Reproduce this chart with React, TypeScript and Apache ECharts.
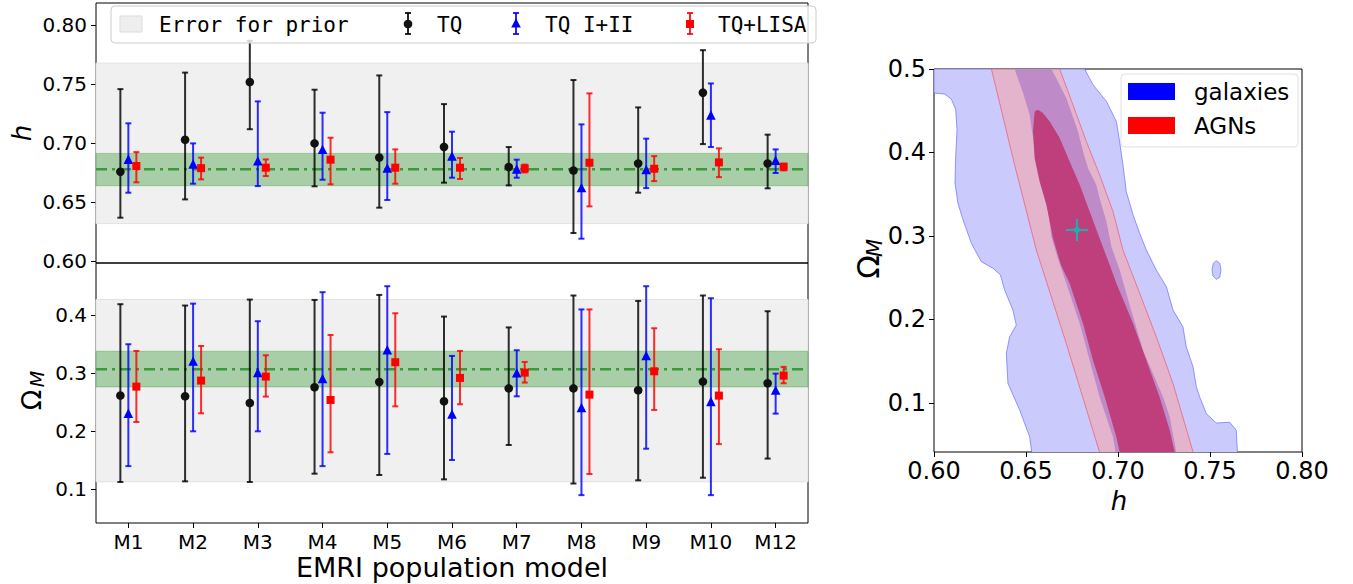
import React, { useEffect, useRef } from 'react';
import * as echarts from 'echarts';

const categories = ['M1', 'M2', 'M3', 'M4', 'M5', 'M6', 'M7', 'M8', 'M9', 'M10', 'M12'];

// [value, lower, upper]
const hTQ = [[0.676, 0.637, 0.746], [0.703, 0.6525, 0.76], [0.752, 0.712, 0.787], [0.7, 0.6636, 0.7455], [0.688, 0.6455, 0.7576], [0.697, 0.6667, 0.7333], [0.68, 0.6644, 0.6969], [0.677, 0.624, 0.7537], [0.683, 0.6582, 0.7305], [0.743, 0.6994, 0.779], [0.683, 0.6619, 0.7074]];
const hTQ12 = [[0.6856, 0.6582, 0.717], [0.6816, 0.6658, 0.7], [0.6842, 0.6638, 0.7356], [0.694, 0.6692, 0.726], [0.6782, 0.652, 0.7265], [0.6884, 0.6709, 0.7099], [0.6774, 0.6709, 0.6862], [0.6616, 0.6192, 0.7161], [0.6769, 0.6621, 0.704], [0.7231, 0.6969, 0.7508], [0.6847, 0.6749, 0.6949]];
const hLISA = [[0.6808, 0.667, 0.6926], [0.679, 0.6695, 0.6879], [0.6794, 0.6723, 0.6864], [0.6862, 0.6653, 0.7048], [0.6794, 0.6658, 0.6949], [0.6794, 0.6698, 0.6876], [0.6788, 0.6754, 0.682], [0.6836, 0.6466, 0.7424], [0.6785, 0.668, 0.6892], [0.6839, 0.6714, 0.6958], [0.6802, 0.6771, 0.6828]];

const omTQ = [[0.2616, 0.1126, 0.419], [0.2603, 0.1138, 0.4167], [0.2488, 0.1126, 0.427], [0.2759, 0.127, 0.4264], [0.285, 0.1247, 0.435], [0.2517, 0.1172, 0.3977], [0.274, 0.1764, 0.379], [0.274, 0.11, 0.434], [0.2707, 0.1155, 0.4247], [0.2856, 0.12, 0.434], [0.2828, 0.153, 0.4069]];
const omTQ12 = [[0.2293, 0.14, 0.35], [0.319, 0.2, 0.42], [0.2994, 0.2, 0.3897], [0.2891, 0.14, 0.4397], [0.3385, 0.161, 0.45], [0.228, 0.1505, 0.3299], [0.2988, 0.2603, 0.3397], [0.239, 0.09, 0.41], [0.3287, 0.17, 0.45], [0.2494, 0.09, 0.4293], [0.269, 0.2305, 0.2994]];
const omLISA = [[0.277, 0.216, 0.3385], [0.2874, 0.231, 0.347], [0.2943, 0.2598, 0.331], [0.254, 0.1638, 0.366], [0.319, 0.243, 0.4034], [0.292, 0.2466, 0.3385], [0.3011, 0.284, 0.3195], [0.2632, 0.1264, 0.41], [0.3034, 0.2368, 0.3776], [0.2615, 0.178, 0.3414], [0.296, 0.2828, 0.311]];

const priorH = [0.632, 0.768];
const priorOm = [0.113, 0.427];
const fidH = 0.678;
const fidHBand = [0.6641, 0.6915];
const fidOm = 0.307;
const fidOmBand = [0.2764, 0.338];

const hTicks = [0.6, 0.65, 0.7, 0.75, 0.8];
const omTicks = [0.1, 0.2, 0.3, 0.4];
const rightOmTicks = [0.1, 0.2, 0.3, 0.4, 0.5];

// contours in (h, Omega_M)
const galaxyOuter = [
  [0.6, 0.5], [0.6, 0.4712], [0.6058, 0.47], [0.6094, 0.464], [0.6118, 0.4512], [0.6125, 0.4272], [0.6118, 0.3952], [0.6114, 0.3632], [0.613, 0.3392], [0.6158, 0.3192], [0.6203, 0.2912], [0.6257, 0.2692], [0.6321, 0.2612], [0.6361, 0.2532], [0.6384, 0.2352], [0.6429, 0.2112], [0.6447, 0.1932], [0.6411, 0.1792], [0.6393, 0.1592], [0.6402, 0.1232], [0.6466, 0.0912], [0.652, 0.0592], [0.6538, 0.03],
  [0.7649, 0.03], [0.7649, 0.0412], [0.7643, 0.0672], [0.7607, 0.0768], [0.7534, 0.076], [0.748, 0.0872], [0.7444, 0.1072], [0.7426, 0.1192], [0.7408, 0.1432], [0.7371, 0.1672], [0.7353, 0.1912], [0.7299, 0.2112], [0.7263, 0.2392], [0.7208, 0.2592], [0.7154, 0.2832], [0.7118, 0.3032], [0.7082, 0.3252], [0.7045, 0.3532], [0.7027, 0.3852], [0.7009, 0.4132], [0.6991, 0.4372], [0.6937, 0.4612], [0.6864, 0.4812], [0.6819, 0.5]
];
const galaxyIsland = [[0.7534, 0.2704], [0.7553, 0.2672], [0.756, 0.2592], [0.7553, 0.2504], [0.7534, 0.248], [0.7516, 0.252], [0.7511, 0.26], [0.7518, 0.2672]];
const agnOuter = [[0.6312, 0.5], [0.6438, 0.3852], [0.6556, 0.2832], [0.6719, 0.1712], [0.6915, 0.03], [0.7415, 0.03], [0.7408, 0.0412], [0.7299, 0.1232], [0.7208, 0.1792], [0.7118, 0.2312], [0.7027, 0.2832], [0.6973, 0.3292], [0.69, 0.3732], [0.6828, 0.4132], [0.6755, 0.4572], [0.6683, 0.5]];
const galaxyInner = [[0.6438, 0.5], [0.6484, 0.4712], [0.652, 0.4452], [0.6534, 0.4232], [0.6556, 0.3952], [0.6583, 0.3632], [0.662, 0.3312], [0.6638, 0.2992], [0.667, 0.2752], [0.6719, 0.2432], [0.6792, 0.1952], [0.6846, 0.1512], [0.69, 0.1072], [0.6973, 0.0592], [0.6995, 0.03], [0.732, 0.03], [0.7317, 0.0412], [0.7281, 0.0832], [0.7245, 0.1072], [0.719, 0.1352], [0.7136, 0.1632], [0.7082, 0.2032], [0.7045, 0.2312], [0.7009, 0.2592], [0.6964, 0.2872], [0.6937, 0.3172], [0.69, 0.3452], [0.6882, 0.3612], [0.6837, 0.3812], [0.681, 0.4012], [0.6783, 0.4252], [0.6719, 0.4652], [0.6638, 0.5]];
const agnInner = [[0.6565, 0.4512], [0.6547, 0.4492], [0.6538, 0.4252], [0.6547, 0.3932], [0.6574, 0.3652], [0.6611, 0.3372], [0.6647, 0.2972], [0.669, 0.2652], [0.6737, 0.2432], [0.681, 0.1952], [0.6864, 0.1512], [0.6928, 0.1072], [0.6991, 0.0592], [0.702, 0.03], [0.731, 0.03], [0.7308, 0.0412], [0.7281, 0.0672], [0.7226, 0.1072], [0.7154, 0.1512], [0.7082, 0.1952], [0.6991, 0.2432], [0.6955, 0.2652], [0.69, 0.2972], [0.6846, 0.3292], [0.6792, 0.3612], [0.6737, 0.3892], [0.6683, 0.4172], [0.6629, 0.4372], [0.6592, 0.4472]];
const fiducialPoint = [0.6777, 0.3072];

const FONT = '"DejaVu Sans", sans-serif';

function bandSeries(xi: number, yi: number, band: number[], fill: string, stroke: string, z: number) {
  return {
    type: 'custom', xAxisIndex: xi, yAxisIndex: yi, z, silent: true,
    data: [[0, band[0], band[1]]],
    renderItem: (params: any, api: any) => {
      const cs = params.coordSys;
      const y1 = api.coord([0, api.value(2)])[1];
      const y2 = api.coord([0, api.value(1)])[1];
      return { type: 'rect', shape: { x: cs.x, y: y1, width: cs.width, height: y2 - y1 }, style: { fill, stroke, lineWidth: 1 } };
    },
  };
}

function lineSeries(xi: number, yi: number, v: number) {
  return {
    type: 'custom', xAxisIndex: xi, yAxisIndex: yi, z: 3, silent: true,
    data: [[0, v]],
    renderItem: (params: any, api: any) => {
      const cs = params.coordSys;
      const y = api.coord([0, api.value(1)])[1];
      return { type: 'line', shape: { x1: cs.x, y1: y, x2: cs.x + cs.width, y2: y }, style: { stroke: '#3c983c', lineWidth: 2.5, lineDash: [11, 5, 3, 5] } };
    },
  };
}

function markerShape(kind: string, x: number, y: number, fill: string) {
  if (kind === 'circle') return { type: 'circle', shape: { cx: x, cy: y, r: 4.3 }, style: { fill } };
  if (kind === 'triangle') return { type: 'polygon', shape: { points: [[x, y - 5.8], [x - 4.8, y + 3.6], [x + 4.8, y + 3.6]] }, style: { fill } };
  return { type: 'rect', shape: { x: x - 4, y: y - 4, width: 8, height: 8 }, style: { fill } };
}

function errSeries(name: string, data: number[][], xi: number, yi: number, offset: number, lineColor: string, fill: string, kind: string) {
  return {
    type: 'custom', name, xAxisIndex: xi, yAxisIndex: yi, z: 5,
    data: data.map((d, i) => [i, d[0], d[1], d[2]]),
    encode: { x: 0, y: [1, 2, 3] },
    renderItem: (params: any, api: any) => {
      const i = api.value(0);
      const c = api.coord([i, api.value(1)]);
      const lo = api.coord([i, api.value(2)])[1];
      const hi = api.coord([i, api.value(3)])[1];
      const x = c[0] + offset;
      const st = { stroke: lineColor, lineWidth: 2 };
      return {
        type: 'group',
        children: [
          { type: 'line', shape: { x1: x, y1: hi, x2: x, y2: lo }, style: st },
          { type: 'line', shape: { x1: x - 3, y1: hi, x2: x + 3, y2: hi }, style: st },
          { type: 'line', shape: { x1: x - 3, y1: lo, x2: x + 3, y2: lo }, style: st },
          markerShape(kind, x, c[1], fill),
        ],
      };
    },
  };
}

const contourList = [
  { pts: galaxyOuter, fill: '#cacafc', stroke: 'rgba(90,90,255,0.6)' },
  { pts: galaxyIsland, fill: '#cacafc', stroke: 'rgba(90,90,255,0.6)' },
  { pts: agnOuter, fill: '#e4b3cc', stroke: 'rgba(235,90,110,0.7)' },
  { pts: galaxyInner, fill: '#be8ac7', stroke: 'none' },
  { pts: agnInner, fill: '#bf3f7c', stroke: 'none' },
];

function legendErr(x: number, color: string, fill: string, kind: string) {
  const st = { stroke: color, lineWidth: 2 };
  return [
    { type: 'line', z: 101, shape: { x1: x, y1: 13, x2: x, y2: 34 }, style: st },
    { type: 'line', z: 101, shape: { x1: x - 3, y1: 13, x2: x + 3, y2: 13 }, style: st },
    { type: 'line', z: 101, shape: { x1: x - 3, y1: 34, x2: x + 3, y2: 34 }, style: st },
    { ...markerShape(kind, x, 24, fill), z: 101 },
  ];
}

export default function App() {
  const ref = useRef<HTMLDivElement>(null);
  useEffect(() => {
    const chart = echarts.init(ref.current!, null, { renderer: 'svg' });
    const gridBase = { show: true, borderColor: '#000', borderWidth: 1, backgroundColor: 'transparent' };
    const valLabel = (size: number, digits: number, custom: number[]) => ({
      customValues: custom, fontSize: size, color: '#000', fontFamily: FONT, margin: 9,
      formatter: (v: number) => Number(v).toFixed(digits),
    });
    const option: any = {
      animation: false,
      textStyle: { fontFamily: FONT },
      grid: [
        { ...gridBase, left: 96, top: 3, width: 712, height: 260 },
        { ...gridBase, left: 96, top: 263, width: 712, height: 260 },
        { ...gridBase, left: 934, top: 69, width: 368, height: 383 },
      ],
      xAxis: [
        { type: 'category', gridIndex: 0, data: categories, axisLine: { show: false }, axisTick: { show: false }, axisLabel: { show: false } },
        {
          type: 'category', gridIndex: 1, data: categories, axisLine: { show: false },
          axisTick: { show: true, alignWithLabel: true, length: 5, lineStyle: { color: '#000' } },
          axisLabel: { fontSize: 20, color: '#000', fontFamily: FONT, margin: 9 },
        },
        {
          type: 'value', gridIndex: 2, min: 0.6, max: 0.8, interval: 0.05, splitLine: { show: false },
          axisLine: { show: false }, axisTick: { show: true, length: 5, lineStyle: { color: '#000' } },
          axisLabel: { fontSize: 24, color: '#000', fontFamily: FONT, margin: 7, formatter: (v: number) => v.toFixed(2) },
        },
      ],
      yAxis: [
        {
          type: 'value', gridIndex: 0, min: 0.5986, max: 0.819, splitLine: { show: false }, axisLine: { show: false },
          axisTick: { show: true, length: 5, customValues: hTicks, lineStyle: { color: '#000' } },
          axisLabel: valLabel(20, 2, hTicks),
        },
        {
          type: 'value', gridIndex: 1, min: 0.042, max: 0.49, splitLine: { show: false }, axisLine: { show: false },
          axisTick: { show: true, length: 5, customValues: omTicks, lineStyle: { color: '#000' } },
          axisLabel: valLabel(20, 1, omTicks),
        },
        {
          type: 'value', gridIndex: 2, min: 0.0412, max: 0.5, splitLine: { show: false }, axisLine: { show: false },
          axisTick: { show: true, length: 5, customValues: rightOmTicks, lineStyle: { color: '#000' } },
          axisLabel: { ...valLabel(24, 1, rightOmTicks), margin: 8 },
        },
      ],
      series: [
        bandSeries(0, 0, priorH, '#f0f0f0', '#e2e2e2', 1),
        bandSeries(0, 0, fidHBand, 'rgba(0,128,0,0.3)', 'rgba(0,120,0,0.25)', 2),
        lineSeries(0, 0, fidH),
        bandSeries(1, 1, priorOm, '#f0f0f0', '#e2e2e2', 1),
        bandSeries(1, 1, fidOmBand, 'rgba(0,128,0,0.3)', 'rgba(0,120,0,0.25)', 2),
        lineSeries(1, 1, fidOm),
        errSeries('TQ', hTQ, 0, 0, -8, 'rgba(0,0,0,0.82)', '#111', 'circle'),
        errSeries('TQ I+II', hTQ12, 0, 0, 0, 'rgba(0,0,255,0.82)', '#0000ff', 'triangle'),
        errSeries('TQ+LISA', hLISA, 0, 0, 8, 'rgba(255,0,0,0.82)', '#ff0000', 'square'),
        errSeries('TQ', omTQ, 1, 1, -8, 'rgba(0,0,0,0.82)', '#111', 'circle'),
        errSeries('TQ I+II', omTQ12, 1, 1, 0, 'rgba(0,0,255,0.82)', '#0000ff', 'triangle'),
        errSeries('TQ+LISA', omLISA, 1, 1, 8, 'rgba(255,0,0,0.82)', '#ff0000', 'square'),
        {
          type: 'custom', xAxisIndex: 2, yAxisIndex: 2, z: 2, clip: true, silent: true,
          data: contourList.map((c, i) => [c.pts[0][0], c.pts[0][1], i]),
          renderItem: (params: any, api: any) => {
            const c = contourList[api.value(2)];
            const pts = c.pts.map((p) => api.coord(p));
            return { type: 'polygon', shape: { points: pts }, style: { fill: c.fill, stroke: c.stroke, lineWidth: 1 } };
          },
        },
        {
          type: 'custom', xAxisIndex: 2, yAxisIndex: 2, z: 4, silent: true,
          data: [fiducialPoint],
          renderItem: (params: any, api: any) => {
            const c = api.coord([api.value(0), api.value(1)]);
            const st = { stroke: '#1bb0b0', lineWidth: 2 };
            return {
              type: 'group', children: [
                { type: 'line', shape: { x1: c[0] - 11, y1: c[1], x2: c[0] + 11, y2: c[1] }, style: st },
                { type: 'line', shape: { x1: c[0], y1: c[1] - 11, x2: c[0], y2: c[1] + 11 }, style: st },
                { type: 'circle', shape: { cx: c[0], cy: c[1], r: 3 }, style: { fill: '#1bb0b0' } },
              ],
            };
          },
        },
      ],
      graphic: [
        // left legend
        { type: 'rect', z: 100, shape: { x: 111, y: 6, width: 705, height: 37, r: 4 }, style: { fill: 'rgba(255,255,255,0.8)', stroke: '#cccccc', lineWidth: 1 } },
        { type: 'rect', z: 101, shape: { x: 120, y: 16, width: 22, height: 16 }, style: { fill: '#eeeeee', stroke: '#dddddd' } },
        { type: 'text', z: 101, x: 159, y: 25, style: { text: 'Error for prior', font: '21px "DejaVu Sans Mono"', fill: '#000', verticalAlign: 'middle' } },
        ...legendErr(408, 'rgba(0,0,0,0.85)', '#111', 'circle'),
        { type: 'text', z: 101, x: 437, y: 25, style: { text: 'TQ', font: '21px "DejaVu Sans Mono"', fill: '#000', verticalAlign: 'middle' } },
        ...legendErr(516, 'rgba(0,0,255,0.85)', '#0000ff', 'triangle'),
        { type: 'text', z: 101, x: 545, y: 25, style: { text: 'TQ I+II', font: '21px "DejaVu Sans Mono"', fill: '#000', verticalAlign: 'middle' } },
        ...legendErr(690, 'rgba(255,0,0,0.85)', '#ff0000', 'square'),
        { type: 'text', z: 101, x: 718, y: 25, style: { text: 'TQ+LISA', font: '21px "DejaVu Sans Mono"', fill: '#000', verticalAlign: 'middle' } },
        // right legend
        { type: 'rect', z: 100, shape: { x: 1121, y: 74, width: 177, height: 73, r: 4 }, style: { fill: 'rgba(255,255,255,0.85)', stroke: '#e0e0e0', lineWidth: 1 } },
        { type: 'rect', z: 101, shape: { x: 1128, y: 83, width: 47, height: 17 }, style: { fill: '#0000ff' } },
        { type: 'rect', z: 101, shape: { x: 1128, y: 117, width: 47, height: 17 }, style: { fill: '#ff0000' } },
        { type: 'text', z: 101, x: 1194, y: 92, style: { text: 'galaxies', font: '23px "DejaVu Sans"', fill: '#000', verticalAlign: 'middle' } },
        { type: 'text', z: 101, x: 1194, y: 126, style: { text: 'AGNs', font: '23px "DejaVu Sans"', fill: '#000', verticalAlign: 'middle' } },
        // axis titles
        { type: 'text', x: 22, y: 133, rotation: Math.PI / 2, style: { text: 'h', font: 'italic 26px "DejaVu Sans"', fill: '#000', align: 'center', verticalAlign: 'middle' } },
        { type: 'text', x: 31, y: 400, rotation: Math.PI / 2, style: { text: 'Ω', font: '27px "DejaVu Sans"', fill: '#000', align: 'center', verticalAlign: 'middle' } },
        { type: 'text', x: 37, y: 379, rotation: Math.PI / 2, style: { text: 'M', font: 'italic 19px "DejaVu Sans"', fill: '#000', align: 'center', verticalAlign: 'middle' } },
        { type: 'text', x: 452, y: 567, style: { text: 'EMRI population model', font: '27px "DejaVu Sans"', fill: '#000', align: 'center', verticalAlign: 'middle' } },
        { type: 'text', x: 868, y: 267, rotation: Math.PI / 2, style: { text: 'Ω', font: '31px "DejaVu Sans"', fill: '#000', align: 'center', verticalAlign: 'middle' } },
        { type: 'text', x: 875, y: 248, rotation: Math.PI / 2, style: { text: 'M', font: 'italic 21px "DejaVu Sans"', fill: '#000', align: 'center', verticalAlign: 'middle' } },
        { type: 'text', x: 1119, y: 501, style: { text: 'h', font: 'italic 26px "DejaVu Sans"', fill: '#000', align: 'center', verticalAlign: 'middle' } },
      ],
    };
    chart.setOption(option);
    return () => chart.dispose();
  }, []);
  return <div ref={ref} style={{ position: 'absolute', left: 0, top: 0, width: 1353, height: 584 }} />;
}
